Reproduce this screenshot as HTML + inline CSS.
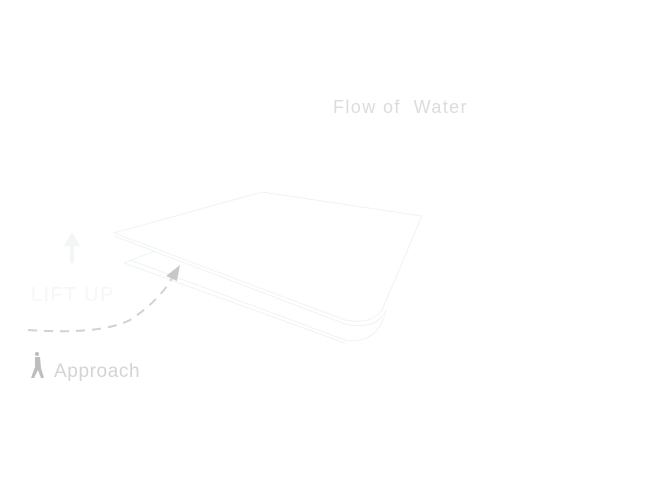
<!DOCTYPE html>
<html><head><style>
body{margin:0;width:660px;height:495px;background:#fff;overflow:hidden;position:relative;font-family:"Liberation Sans",sans-serif}
.t{position:absolute;white-space:nowrap}
</style></head><body>
<svg width="660" height="495" style="position:absolute;left:0;top:0">
<g fill="none" stroke="#eef4f3" stroke-width="1">
<path d="M114,233 L262,192 L422,216 L382,310 Q372,325 345,320 L114,233 Z"/>
<path d="M114,236 L345,324 Q375,330 383,314"/>
<path d="M124,263 L155,251 M130,260 L345,340 Q378,345 386,310"/>
<path d="M124,263 L345,343"/>
</g>
<path d="M28,330 Q100,335 130,320 Q160,300 172,278" fill="none" stroke="#d2d2d2" stroke-width="2" stroke-dasharray="9,7"/>
<polygon points="180,265 166,276 177,281" fill="#c8c8c8"/>
<polygon points="72,232 64,246 70,246 70,263 74,263 74,246 80,246" fill="#f2f6f5"/>
<g fill="#bdbdbd"><circle cx="37" cy="354" r="2"/><path d="M35,357 L40,357 L41,368 L44,378 L41,378 L38,370 L34,378 L31,378 L35,367 Z"/></g>
</svg>
<div class="t" style="left:333px;top:97px;font-size:18px;color:#dcdcdc;letter-spacing:1.4px">Flow of&nbsp; Water</div>
<div class="t" style="left:31px;top:284px;font-size:20px;color:#f4f7f6;letter-spacing:1.4px">LIFT UP</div>
<div class="t" style="left:54px;top:361px;font-size:19px;color:#d4d4d4;letter-spacing:0.6px">Approach</div>
</body></html>
